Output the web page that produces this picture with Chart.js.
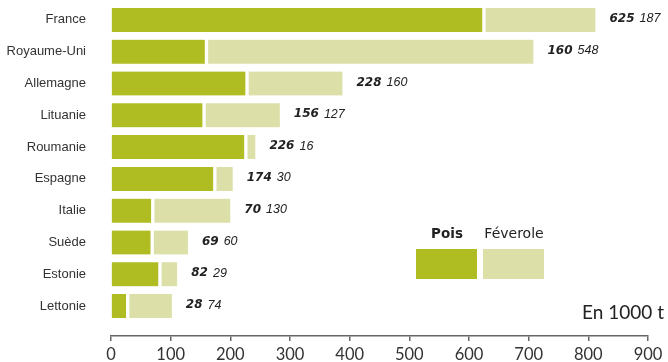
<!DOCTYPE html>
<html>
<head>
<meta charset="utf-8">
<script src="https://cdn.jsdelivr.net/npm/chart.js@4.4.1/dist/chart.umd.min.js"></script>
<style>
  html, body { margin: 0; padding: 0; background: #fff; }
</style>
</head>
<body>
<canvas id="chart" width="668" height="362"></canvas>
<script>
// data (thousand tonnes)
const countries = ['France', 'Royaume-Uni', 'Allemagne', 'Lituanie', 'Roumanie', 'Espagne', 'Italie', 'Suède', 'Estonie', 'Lettonie'];
const pois = [625, 160, 228, 156, 226, 174, 70, 69, 82, 28];
const feverole = [187, 548, 160, 127, 16, 30, 130, 60, 29, 74];
const seriesNames = ['Pois', 'Féverole'];
const unitLabel = 'En 1000 t';

const darkGreen = '#afbc22';
const lightGreen = '#dce0a8';

const ctx = document.getElementById('chart').getContext('2d');

// numbers written after each bar
const valueLabels = {
  id: 'valueLabels',
  afterDatasetsDraw(chart) {
    const c = chart.ctx;
    const bars = chart.getDatasetMeta(1).data;
    c.save();
    c.fillStyle = '#222';
    c.textBaseline = 'middle';
    bars.forEach((bar, i) => {
      let x = bar.x + 14;
      const y = bar.y - 1;
      c.font = 'italic bold 12px "DejaVu Sans"';
      const a = String(pois[i]);
      c.fillText(a, x, y);
      x += c.measureText(a).width + 5;
      c.font = 'italic 12.5px "Liberation Sans"';
      c.fillText(String(feverole[i]), x, y);
    });
    c.restore();
  }
};

// legend: name above a big colour box, lower right
const boxLegend = {
  id: 'boxLegend',
  afterDraw(chart) {
    const c = chart.ctx;
    const spots = [416, 483];
    c.save();
    c.textAlign = 'center';
    c.textBaseline = 'alphabetic';
    chart.data.datasets.forEach((ds, i) => {
      const x = spots[i];
      c.fillStyle = ds.backgroundColor;
      c.fillRect(x, 249, 61, 30);
      c.fillStyle = '#222';
      c.font = (i === 0 ? 'bold 13.5px' : '14px') + ' "DejaVu Sans"';
      c.fillText(ds.label, x + 31, 238);
    });
    c.font = '19px Lato';
    c.textAlign = 'right';
    c.fillStyle = '#222';
    c.fillText(unitLabel, 664, 319);
    c.restore();
  }
};

const chart = new Chart(ctx, {
  type: 'bar',
  data: {
    datasets: [{
      label: seriesNames[0],
      data: pois.map((v, i) => ({x: v, y: i})),
      backgroundColor: darkGreen,
      borderColor: '#fff',
      borderWidth: {top: 0, left: 0, bottom: 0, right: 2},
      borderSkipped: false,
      stack: 'pf'
    },
    {
      label: seriesNames[1],
      data: feverole.map((v, i) => ({x: v, y: i})),
      backgroundColor: lightGreen,
      borderColor: '#fff',
      borderWidth: {top: 0, left: 2, bottom: 0, right: 0},
      borderSkipped: false,
      stack: 'pf'
    }]
  },
  options: {
    indexAxis: 'y',
    responsive: false,
    animation: false,
    devicePixelRatio: 1,
    barThickness: 24,
    layout: { padding: {left: 0, right: 20, top: 4, bottom: 0} },
    plugins: {
      legend: { display: false },
      tooltip: { enabled: false }
    },
    scales: {
      x: {
        type: 'linear',
        stacked: true,
        min: 0,
        max: 900,
        ticks: {
          stepSize: 100,
          padding: 4,
          color: '#333',
          font: { family: 'Lato', size: 16.5 }
        },
        grid: {
          drawOnChartArea: false,
          drawTicks: true,
          tickLength: 5,
          color: '#666',
          lineWidth: 1.5
        },
        border: { color: '#666', width: 1.5 },
        afterFit: (s) => { s.height = 26; }
      },
      y: {
        type: 'linear',
        offset: false,
        reverse: true,
        min: -0.5,
        max: 9.94,
        afterBuildTicks: (s) => { s.ticks = countries.map((c, i) => ({value: i})); },
        ticks: {
          autoSkip: false,
          padding: 17,
          color: '#333',
          font: { family: '"Liberation Sans"', size: 13 },
          callback: (v) => countries[v]
        },
        grid: { display: false },
        border: { display: false },
        afterFit: (s) => { s.width = 111; s.paddingTop = 0; s.paddingBottom = 0; }
      }
    }
  },
  plugins: [valueLabels, boxLegend]
});
</script>
</body>
</html>
